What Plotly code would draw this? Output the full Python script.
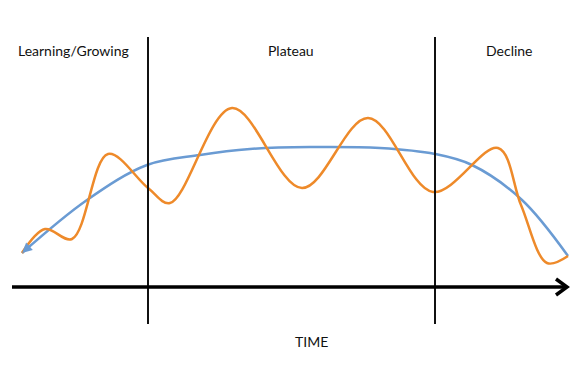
import plotly.graph_objects as go

# Curve control points (pixel space)
orange_x = [22, 45, 72, 108, 148, 170, 232, 302, 368, 433, 498, 521, 547, 568]
orange_y = [253, 229, 239, 154, 188, 203, 108, 188, 118, 192, 148, 205, 263, 256]

blue_x = [22, 87, 147, 200, 250, 310, 380, 435, 472, 522, 568]
blue_y = [253, 200, 165, 155, 149, 147, 148, 154, 165, 200, 256]

phase_labels = ["Learning/Growing", "Plateau", "Decline"]
phase_label_x = [73, 291, 509]
phase_bounds = [148, 435]
axis_label = "TIME"

# page body has an 8px margin: size the figure so data units equal window pixels
OFF = 8
W, H = 584, 374
ORANGE = "#EE8A2A"
BLUE = "#6A9BD3"

fig = go.Figure()
fig.add_trace(go.Scatter(x=blue_x, y=blue_y, mode="lines",
                         line=dict(color=BLUE, width=2.5, shape="spline", smoothing=1.0),
                         hoverinfo="skip"))
fig.add_trace(go.Scatter(x=orange_x, y=orange_y, mode="lines",
                         line=dict(color=ORANGE, width=2.5, shape="spline", smoothing=1.0),
                         hoverinfo="skip"))

shapes = []
for bx in phase_bounds:
    shapes.append(dict(type="line", xref="x", yref="y", x0=bx, x1=bx, y0=37, y1=324,
                       line=dict(color="#111111", width=2)))
# time axis with open arrowhead
shapes.append(dict(type="line", xref="x", yref="y", x0=12, x1=566, y0=287, y1=287,
                   line=dict(color="black", width=3.5)))
shapes.append(dict(type="path", xref="x", yref="y", path="M 556 279 L 567 287 L 556 295",
                   line=dict(color="black", width=3.5)))

annotations = []
for lab, lx in zip(phase_labels, phase_label_x):
    annotations.append(dict(x=lx, y=50, xref="x", yref="y", text=lab, showarrow=False,
                            font=dict(family="Lato", size=14, color="#111111")))
annotations.append(dict(x=311, y=341, xref="x", yref="y", text=axis_label, showarrow=False,
                        font=dict(family="Lato", size=14, color="#111111")))
# blue arrowhead at start
annotations.append(dict(x=blue_x[0], y=blue_y[0], ax=blue_x[0] + 9, ay=blue_y[0] - 8,
                        xref="x", yref="y", axref="x", ayref="y", text="", showarrow=True,
                        arrowhead=2, arrowsize=1, arrowwidth=2, arrowcolor=BLUE))

fig.update_layout(
    width=W - OFF, height=H - OFF, autosize=False,
    margin=dict(l=0, r=0, t=0, b=0),
    paper_bgcolor="white", plot_bgcolor="white",
    showlegend=False,
    shapes=shapes, annotations=annotations,
    xaxis=dict(range=[OFF, W], visible=False, fixedrange=True),
    yaxis=dict(range=[H, OFF], visible=False, fixedrange=True),
)

fig.write_html("out.html")
